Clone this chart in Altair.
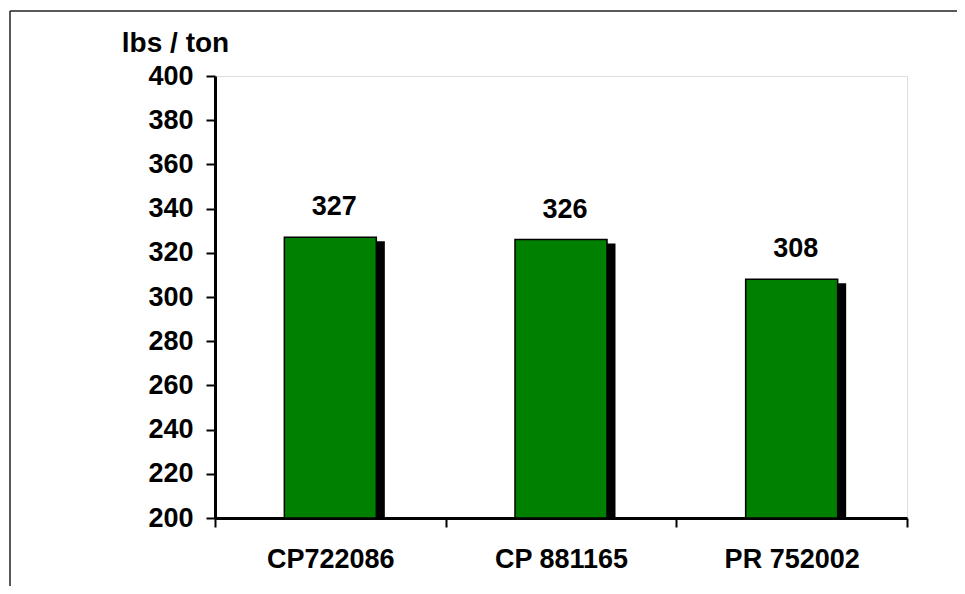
import altair as alt
import pandas as pd

categories = ["CP722086", "CP 881165", "PR 752002"]
values = [327, 326, 308]
y_ticks = [200, 220, 240, 260, 280, 300, 320, 340, 360, 380, 400]

df = pd.DataFrame({"variety": categories, "value": values})
FONT = "Liberation Sans"

x_enc = alt.X(
    "variety:N",
    sort=categories,
    title=None,
    scale=alt.Scale(paddingInner=0, paddingOuter=0),
    axis=alt.Axis(
        labelAngle=0, labelFont=FONT, labelFontSize=27, labelFontWeight="bold",
        labelColor="black", labelBaseline="alphabetic", labelPadding=40,
        tickBand="extent", tickSize=9, tickWidth=2, tickColor="black",
        domainColor="black", domainWidth=3,
    ),
)
y_enc = alt.Y(
    "value:Q",
    scale=alt.Scale(domain=[200, 400], nice=False, zero=False),
    axis=alt.Axis(
        values=y_ticks, grid=False, title="lbs / ton",
        titleAngle=0, titleX=-40, titleY=-25, titleAlign="center",
        titleBaseline="alphabetic", titleFont=FONT, titleFontSize=28,
        titleFontWeight="bold", titleColor="black",
        labelFont=FONT, labelFontSize=27, labelFontWeight="bold",
        labelColor="black", labelPadding=13,
        tickSize=9, tickWidth=2, tickColor="black",
        domainColor="black", domainWidth=3,
    ),
)

base = alt.Chart(df)

shadow = base.mark_bar(color="black", size=92, xOffset=8.5, yOffset=4, clip=True).encode(
    x=x_enc, y=y_enc, y2=alt.datum(200)
)
bars = base.mark_bar(color="#008000", stroke="black", strokeWidth=1.5, size=92).encode(
    x=x_enc, y=y_enc, y2=alt.datum(200)
)
labels = base.mark_text(
    font=FONT, fontSize=27, fontWeight="bold", color="black",
    baseline="alphabetic", dy=-22, dx=4,
).encode(x=x_enc, y=y_enc, text=alt.Text("value:Q"))

frame_df = pd.DataFrame({"d": [0]})
frame_top = alt.Chart(frame_df).mark_rule(color="#222222", strokeWidth=1.5, clip=False).encode(
    x=alt.value(-205), x2=alt.value(800), y=alt.value(-65)
)
frame_left = alt.Chart(frame_df).mark_rule(color="#222222", strokeWidth=1.5, clip=False).encode(
    x=alt.value(-205), y=alt.value(-65), y2=alt.value(600)
)

chart = alt.layer(frame_top, frame_left, shadow, bars, labels).properties(
    width=692, height=442,
    autosize=alt.AutoSizeParams(type="none"),
    padding={"left": 207, "top": 68, "right": 50, "bottom": 68},
).configure_view(stroke="#888888", strokeWidth=2).configure(background="white")

chart.save("out.html", embed_options={"renderer": "svg", "actions": False})
